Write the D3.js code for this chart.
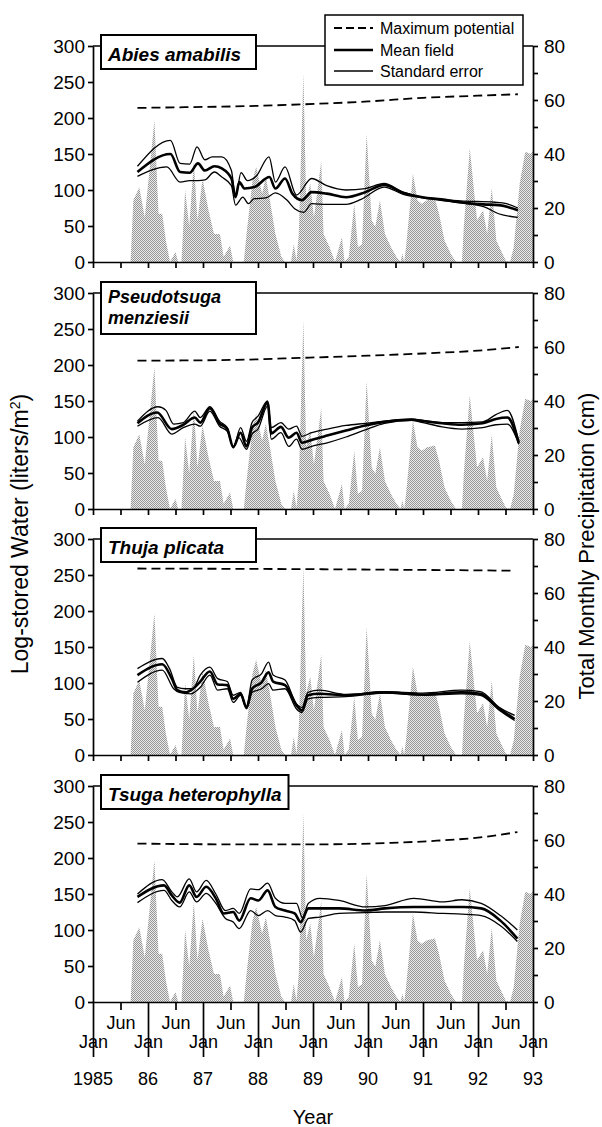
<!DOCTYPE html>
<html>
<head>
<meta charset="utf-8">
<script src="https://cdn.jsdelivr.net/npm/d3@7"></script>
<style>
  body { margin: 0; background: #fff; }
  svg { display: block; font-family: 'Liberation Sans', Arial, Helvetica, sans-serif; }
</style>
</head>
<body>
<svg id="chart"></svg>
<script>
// months since Jan 1985, precipitation in cm (right axis)
const precipMonths = [8.2, 8.8, 10.1, 11.3, 13.4, 14.3, 15.1, 15.9, 16.8, 18.0, 18.6, 19.3, 20.1, 21.0, 22.0, 22.8, 23.9, 25.2, 26.4, 27.7, 28.5, 29.9, 30.6, 32.9, 33.5, 34.8, 35.6, 36.9, 37.7, 38.6, 39.8, 41.1, 41.9, 43.2, 43.8, 44.4, 44.9, 45.9, 46.5, 47.4, 48.2, 49.8, 50.3, 51.6, 52.4, 52.8, 53.7, 54.3, 54.9, 55.8, 57.0, 57.8, 58.7, 59.7, 60.8, 61.6, 62.6, 63.7, 65.0, 66.2, 67.1, 67.5, 67.9, 68.3, 69.2, 69.8, 70.8, 71.7, 72.9, 74.6, 75.5, 76.7, 78.0, 79.2, 80.5, 80.9, 82.2, 83.2, 83.8, 85.1, 86.0, 87.0, 88.0, 89.3, 90.1, 91.0, 91.8, 93.1, 94.3, 95.5, 96];
const precipCm = [0, 22.9, 27.7, 16.5, 52.5, 17.9, 17.9, 8, 0, 3.7, 0, 0, 26.7, 13.1, 37.1, 15.5, 30.9, 19.2, 10.4, 10.4, 1.9, 6.1, 0, 0, 10.4, 30.1, 35.2, 25.3, 31.5, 22.9, 10.4, 1.9, 0, 0, 6.7, 0.5, 10.4, 69.9, 22.9, 29.1, 16.5, 37.3, 10.4, 5.6, 1.9, 0, 5.6, 9.3, 0, 1.9, 21.6, 5.6, 6.7, 47.5, 15.5, 13.1, 22.9, 10.4, 5.6, 1.9, 0, 3.2, 0, 5.6, 21.6, 32.8, 22.9, 21.6, 22.9, 23.5, 17.9, 8, 3.2, 0, 0, 13.1, 42.1, 25.3, 15.5, 19.2, 10.4, 27.5, 8, 3.2, 0.5, 0, 5.6, 29.1, 40.8, 40, 41];

// [month, liters/m2]
const abiesMax = [[9.7, 214], [20, 215], [30, 216], [46, 219], [60, 223], [72, 228], [84, 231], [92.7, 233]];
const abiesMean = [[9.7, 125], [16.9, 150], [19, 125], [21.1, 124], [22.9, 137], [24.4, 127], [26.5, 133], [28.1, 130], [30.2, 116], [31.1, 90], [31.9, 111], [33.1, 102], [35.2, 104], [38.5, 118], [39.8, 102], [41.9, 116], [43.5, 95], [45.6, 86], [47.7, 97], [51, 95], [55.2, 90], [59.4, 97], [63.5, 107], [67.7, 96], [71.9, 90], [76, 87], [80.2, 83], [85.2, 80], [88.5, 79], [92.7, 72]];
const abiesUpper = [[9.7, 133], [16.9, 169], [19, 137], [21.1, 136], [22.7, 160], [24.4, 142], [26, 146], [28.1, 146], [30.2, 127], [31.1, 90], [32.3, 124], [33.7, 113], [35.6, 119], [38.4, 146], [39.8, 111], [41.9, 132], [44.4, 93], [47.7, 116], [51, 106], [55.2, 100], [59.4, 102], [63.5, 109], [67.7, 97], [71.9, 90], [80.2, 85], [87.7, 83], [90.2, 81], [92.7, 75]];
const abiesLower = [[9.7, 119], [16.1, 132], [19, 111], [21.1, 113], [22.9, 113], [24.4, 114], [26.5, 125], [28.1, 118], [30.2, 106], [31.1, 79], [32.7, 90], [33.9, 81], [35.2, 88], [37.7, 89], [39.8, 96], [42.3, 86], [44, 74], [46, 69], [47.7, 81], [51, 80], [55.2, 80], [58.5, 87], [63.5, 104], [67.7, 94], [71.9, 89], [80.2, 82], [85.2, 77], [88.5, 67], [92.7, 62]];

const pseudoMax = [[9.7, 206], [30, 207], [46, 210], [60, 213], [72, 216], [84, 220], [92.9, 225]];
const pseudoMean = [[9.7, 119], [14, 134], [17.2, 111], [19.7, 117], [22.2, 127], [23.4, 120], [25.5, 140], [27.6, 119], [29.3, 111], [30.6, 86], [32.2, 106], [33.5, 87], [34.7, 113], [36, 120], [38.1, 148], [38.9, 105], [41, 114], [42.7, 99], [44.4, 106], [45.6, 92], [47.7, 96], [51.1, 102], [55.2, 109], [59.4, 116], [63.6, 121], [69.5, 124], [72, 122], [76.2, 119], [80.4, 117], [85, 119], [87.9, 125], [90.4, 127], [92.9, 92]];
const pseudoUpper = [[9.7, 122], [14.2, 142], [15.9, 137], [17.6, 118], [19.7, 120], [22.2, 136], [23.4, 127], [25.5, 142], [27.6, 122], [29.3, 113], [30.6, 85], [32.2, 113], [33.5, 94], [34.7, 120], [36, 129], [38.1, 150], [38.9, 113], [41, 120], [42.7, 111], [44.4, 115], [45.6, 101], [47.7, 106], [51.1, 111], [55.2, 116], [59.4, 119], [63.6, 122], [69.5, 125], [72, 123], [76.2, 120], [80.4, 120], [85, 121], [87.9, 131], [90.4, 137], [92.9, 94]];
const pseudoLower = [[9.7, 115], [14.2, 127], [17.2, 104], [19.7, 113], [22.2, 118], [23.4, 115], [25.5, 136], [27.6, 115], [29.3, 108], [30.6, 87], [31.8, 99], [33.5, 83], [34.7, 104], [36, 111], [38.1, 143], [38.9, 97], [41, 106], [42.7, 87], [44.4, 97], [45.6, 83], [47.7, 87], [51.1, 92], [55.2, 100], [59.4, 110], [63.6, 119], [69.5, 123], [72, 120], [76.2, 114], [80.4, 111], [85, 113], [87.9, 117], [90.4, 118], [92.9, 90]];

const thujaMax = [[9.7, 259], [50, 258], [92, 256]];
const thujaMean = [[9.7, 111], [15.1, 126], [17.2, 106], [18.4, 90], [20.1, 87], [21.8, 92], [23.4, 102], [25.5, 116], [27.2, 98], [29.3, 97], [30.6, 78], [32.2, 85], [33.5, 66], [34.7, 92], [36.8, 101], [38.3, 115], [39.3, 102], [41.9, 97], [44.4, 69], [45.6, 62], [46.9, 83], [49.4, 85], [55.2, 83], [63.6, 87], [72, 84], [80.4, 87], [84.5, 85], [88.7, 64], [92, 50]];
const thujaUpper = [[9.7, 120], [15.1, 134], [16.7, 120], [18.4, 94], [20.1, 92], [21.8, 92], [23.4, 111], [25.5, 122], [27.2, 106], [29.3, 102], [30.6, 83], [32.2, 87], [33.5, 66], [34.7, 104], [36.8, 113], [38.3, 129], [39.3, 111], [41.9, 104], [44.4, 71], [45.6, 66], [46.9, 87], [49.4, 90], [55.2, 84], [63.6, 88], [72, 86], [80.4, 90], [84.5, 88], [88.7, 66], [92, 55]];
const thujaLower = [[9.7, 101], [15.1, 118], [17.6, 92], [18.8, 87], [21.3, 85], [23.4, 94], [25.5, 111], [27.2, 90], [29.3, 92], [30.6, 73], [32.2, 83], [33.5, 64], [34.7, 87], [36.8, 92], [38.3, 99], [39.3, 90], [41.9, 92], [44.4, 64], [45.6, 59], [46.9, 78], [49.4, 80], [55.2, 81], [63.6, 86], [72, 83], [80.4, 85], [84.5, 83], [88.7, 62], [92, 48]];

const tsugaMax = [[9.7, 220], [30, 219], [50, 219], [65, 221], [75, 224], [85, 229], [92.6, 236]];
const tsugaMean = [[9.7, 146], [15.5, 162], [17.2, 148], [18.9, 138], [21, 162], [22.6, 146], [24.7, 160], [26.8, 144], [28.5, 123], [30.6, 125], [31.9, 113], [34.4, 144], [36.1, 141], [38.1, 155], [39.8, 132], [41.9, 127], [44, 123], [45.3, 111], [47, 130], [49.5, 130], [53.7, 130], [59.5, 127], [63.7, 130], [70, 132], [76.3, 132], [80.5, 132], [84.7, 130], [88.9, 113], [92.6, 88]];
const tsugaUpper = [[9.7, 150], [15.1, 170], [17.2, 153], [18.4, 146], [21, 171], [22.6, 153], [24.7, 169], [26.8, 150], [28.9, 127], [30.6, 130], [31.9, 123], [34.4, 157], [36.1, 156], [38.1, 165], [39.8, 144], [41.9, 137], [44.4, 137], [45.7, 117], [47, 137], [49.5, 144], [53.7, 141], [59.5, 132], [63.7, 134], [70, 144], [76.3, 139], [80.5, 142], [84.7, 137], [88.9, 120], [92.6, 100]];
const tsugaLower = [[9.7, 138], [15.5, 155], [17.2, 141], [18.9, 132], [21, 153], [22.6, 139], [24.7, 151], [26.8, 137], [28.9, 116], [30.6, 111], [31.9, 102], [34.4, 127], [36.1, 120], [38.1, 127], [39.8, 120], [41.9, 118], [44, 113], [45.3, 97], [47, 116], [49.5, 118], [53.7, 123], [59.5, 124], [63.7, 125], [70, 125], [76.3, 123], [80.5, 122], [84.7, 120], [88.9, 106], [92.6, 84]];

const speciesNames = [['Abies amabilis'], ['Pseudotsuga', 'menziesii'], ['Thuja plicata'], ['Tsuga heterophylla']];
const legendLabels = ['Maximum potential', 'Mean field', 'Standard error'];
const leftTicks = [0, 50, 100, 150, 200, 250, 300];
const rightTicks = [0, 10, 20, 30, 40, 50, 60, 70, 80];
const junMonths = [6, 18, 30, 42, 54, 66, 78, 90];
const janMonths = [0, 12, 24, 36, 48, 60, 72, 84, 96];
const yearLabels = ['1985', '86', '87', '88', '89', '90', '91', '92', '93'];

const width = 602;
const height = 1127;
const panelTops = [46, 293, 539, 786];
const panelH = 216;
const font = "'Liberation Sans', Arial, Helvetica, sans-serif";

const svg = d3.select('#chart')
    .attr('width', width)
    .attr('height', height);

// stippled fill like the halftone in the print
const pat = svg.append('defs').append('pattern')
    .attr('id', 'stipple')
    .attr('width', 2)
    .attr('height', 2)
    .attr('patternUnits', 'userSpaceOnUse');
pat.append('rect').attr('width', 2).attr('height', 2).attr('fill', '#ebebeb');
pat.append('rect').attr('width', 1).attr('height', 1).attr('fill', '#969696');
pat.append('rect').attr('x', 1).attr('y', 1).attr('width', 1).attr('height', 1).attr('fill', '#969696');

const x = d3.scaleLinear().domain([0, 96]).range([93, 533]);

const precip = precipMonths.map((m, i) => [m, precipCm[i]]);
const panels = [
    { max: abiesMax, mean: abiesMean, upper: abiesUpper, lower: abiesLower },
    { max: pseudoMax, mean: pseudoMean, upper: pseudoUpper, lower: pseudoLower },
    { max: thujaMax, mean: thujaMean, upper: thujaUpper, lower: thujaLower },
    { max: tsugaMax, mean: tsugaMean, upper: tsugaUpper, lower: tsugaLower }
];

function styleAxis(g, size) {
    g.attr('font-size', size).attr('font-family', font);
    g.selectAll('path, line').attr('stroke', '#000').attr('stroke-width', 1.7);
    g.selectAll('text').attr('fill', '#000');
}

panels.forEach((p, i) => {
    const top = panelTops[i];
    const yL = d3.scaleLinear().domain([0, 300]).range([top + panelH, top]);
    const yR = d3.scaleLinear().domain([0, 80]).range([top + panelH, top]);
    const g = svg.append('g');

    // precipitation
    g.append('path')
        .datum(precip)
        .attr('d', d3.area().x(d => x(d[0])).y0(yR(0)).y1(d => yR(d[1])))
        .attr('fill', 'url(#stipple)');

    const line = d3.line()
        .x(d => x(d[0]))
        .y(d => yL(d[1]))
        .curve(d3.curveMonotoneX);

    g.append('path').datum(p.max)
        .attr('d', line).attr('fill', 'none')
        .attr('stroke', '#000').attr('stroke-width', 1.8).attr('stroke-dasharray', '9,5');
    [p.upper, p.lower].forEach(s => {
        g.append('path').datum(s)
            .attr('d', line).attr('fill', 'none')
            .attr('stroke', '#000').attr('stroke-width', 1.3);
    });
    g.append('path').datum(p.mean)
        .attr('d', line).attr('fill', 'none')
        .attr('stroke', '#000').attr('stroke-width', 2.6);

    // frame top
    g.append('line')
        .attr('x1', x(0)).attr('x2', x(96))
        .attr('y1', yL(300)).attr('y2', yL(300))
        .attr('stroke', '#000').attr('stroke-width', 1.7);

    g.append('g')
        .attr('transform', `translate(${x(0)},0)`)
        .call(d3.axisLeft(yL).tickValues(leftTicks).tickSize(5).tickSizeOuter(0).tickPadding(3))
        .call(a => styleAxis(a, 19));

    g.append('g')
        .attr('transform', `translate(${x(96)},0)`)
        .call(d3.axisRight(yR).tickValues(rightTicks).tickSize(5).tickSizeOuter(0).tickPadding(6)
            .tickFormat(d => d % 20 === 0 ? d : ''))
        .call(a => styleAxis(a, 19));

    if (i < 3) {
        g.append('g')
            .attr('transform', `translate(0,${yL(0)})`)
            .call(d3.axisBottom(x).tickValues(d3.range(0, 97, 6)).tickSize(6).tickSizeOuter(0).tickFormat(''))
            .call(a => styleAxis(a, 18));
    } else {
        g.append('g')
            .attr('transform', `translate(0,${yL(0)})`)
            .call(d3.axisBottom(x).tickValues(junMonths).tickSize(8).tickSizeOuter(0).tickPadding(6).tickFormat(() => 'Jun'))
            .call(a => styleAxis(a, 18));
        g.append('g')
            .attr('transform', `translate(0,${yL(0)})`)
            .call(d3.axisBottom(x).tickValues(janMonths).tickSize(55).tickSizeOuter(0).tickPadding(-22).tickFormat(() => 'Jan'))
            .call(a => styleAxis(a, 18))
            .call(a => a.select('.domain').remove());

        g.selectAll('.year')
            .data(yearLabels)
            .enter()
            .append('text')
            .attr('x', (d, k) => x(janMonths[k]))
            .attr('y', yL(0) + 83)
            .attr('text-anchor', 'middle')
            .attr('font-size', 18)
            .attr('font-family', font)
            .text(d => d);
    }

    // species label box, at least as wide as the Abies one
    const names = speciesNames[i];
    const twoLines = names.length > 1;
    const box = g.append('rect');
    const labels = g.selectAll('.sp')
        .data(names)
        .enter()
        .append('text')
        .attr('x', 108)
        .attr('y', (d, k) => twoLines ? top + 10 + k * 21 : top + 15)
        .attr('font-size', twoLines ? 18 : 19)
        .attr('font-weight', 'bold')
        .attr('font-style', 'italic')
        .attr('font-family', font)
        .text(d => d);
    const textW = d3.max(labels.nodes(), n => n.getComputedTextLength());
    box.attr('x', 101).attr('y', top - 11)
        .attr('width', Math.max(155, textW + 14))
        .attr('height', twoLines ? 52 : 34)
        .attr('fill', '#fff').attr('stroke', '#000').attr('stroke-width', 2);
});

// legend
const legend = svg.append('g');
legend.append('rect')
    .attr('x', 325).attr('y', 15)
    .attr('width', 198).attr('height', 70)
    .attr('fill', '#fff').attr('stroke', '#000').attr('stroke-width', 1.5);
const legendY = [28, 50, 71];
const legendWidths = [1.8, 2.6, 1.3];
legendLabels.forEach((label, k) => {
    legend.append('line')
        .attr('x1', 334).attr('x2', 373)
        .attr('y1', legendY[k]).attr('y2', legendY[k])
        .attr('stroke', '#000')
        .attr('stroke-width', legendWidths[k])
        .attr('stroke-dasharray', k === 0 ? '8,4' : null);
    legend.append('text')
        .attr('x', 380).attr('y', legendY[k])
        .attr('dy', '0.35em')
        .attr('font-size', 16)
        .attr('font-family', font)
        .text(label);
});

// axis titles
svg.append('text')
    .attr('transform', 'translate(28,534) rotate(-90)')
    .attr('text-anchor', 'middle')
    .attr('font-size', 23)
    .attr('font-family', font)
    .html('Log-stored Water (liters/m<tspan baseline-shift="super" font-size="14">2</tspan>)');

svg.append('text')
    .attr('transform', 'translate(594,546) rotate(-90)')
    .attr('text-anchor', 'middle')
    .attr('font-size', 22)
    .attr('font-family', font)
    .text('Total Monthly Precipitation (cm)');

svg.append('text')
    .attr('x', (x(0) + x(96)) / 2)
    .attr('y', 1124)
    .attr('text-anchor', 'middle')
    .attr('font-size', 20)
    .attr('font-family', font)
    .text('Year');
</script>
</body>
</html>
